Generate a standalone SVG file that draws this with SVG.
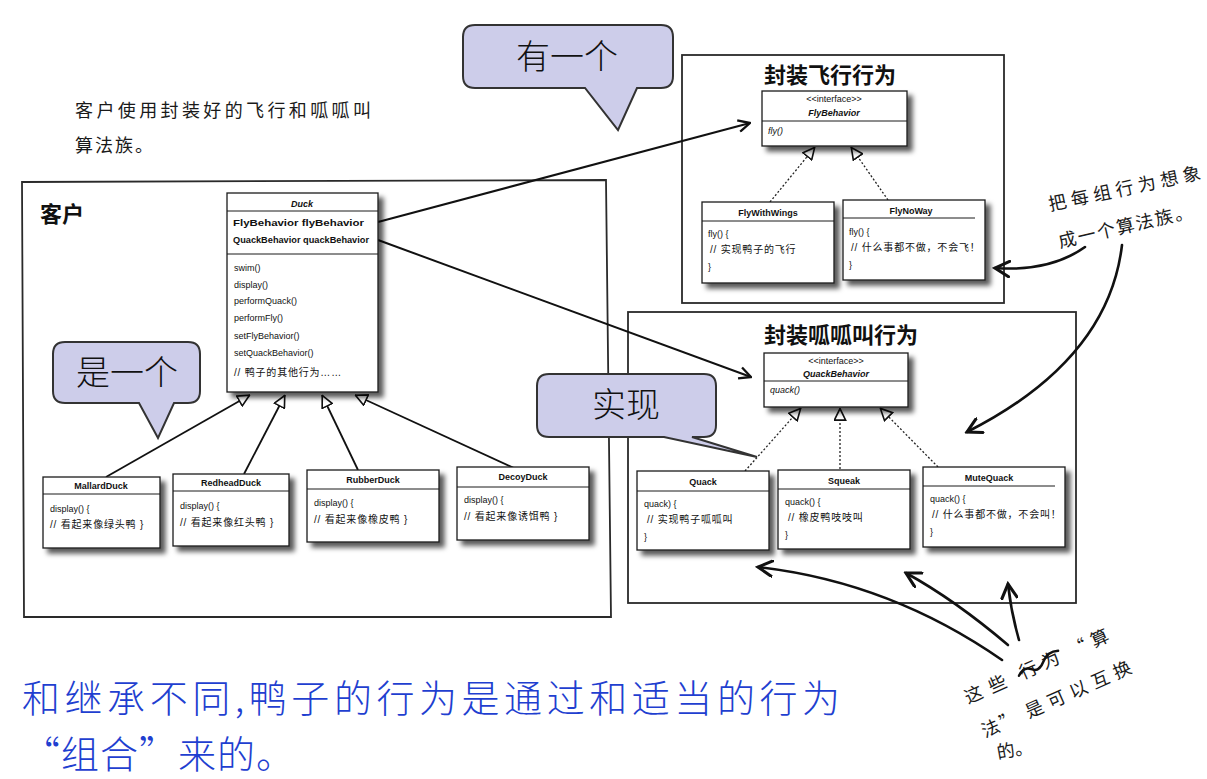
<svg xmlns="http://www.w3.org/2000/svg" width="1207" height="779" viewBox="0 0 1207 779">
<defs>
<style>
.panel{fill:#fff;stroke:#2a2a2a;stroke-width:1.8}
.cls{fill:#fff;stroke:#1a1a1a;stroke-width:1.3;filter:url(#sh)}
.sep{stroke:#1a1a1a;stroke-width:1;fill:none}
.t{font-family:"Liberation Sans","Noto Sans CJK SC",Arial,sans-serif;font-size:9px;fill:#111}
.tb{font-weight:bold}
.ti{font-style:italic}
.cm{font-family:"Liberation Sans","Noto Sans CJK SC",sans-serif;font-size:10px;fill:#111;letter-spacing:0.8px}
.ptitle{font-family:"Noto Sans CJK SC",sans-serif;font-weight:bold;font-size:22px;fill:#111}
.assoc{stroke:#111;stroke-width:2;fill:none}
.inh{stroke:#111;stroke-width:1.8;fill:none}
.real{stroke:#222;stroke-width:1.3;stroke-dasharray:2,2;fill:none}
.hand{stroke:#111;stroke-width:2.6;fill:none;stroke-linecap:round}
.hw{font-family:"Noto Sans CJK SC",sans-serif;font-size:18px;fill:#1a1a1a}
.call{fill:#cdcdea;stroke:#333;stroke-width:2}
.callt{font-family:"Noto Sans CJK SC",serif;font-weight:300;font-size:34px;fill:#111;text-anchor:middle}
.blue{font-family:"Noto Sans CJK SC",sans-serif;font-weight:300;font-size:38px;fill:#1f3fd0}
</style>
<filter id="sh" x="-10%" y="-10%" width="130%" height="130%">
<feDropShadow dx="5" dy="5" stdDeviation="2.8" flood-color="#000" flood-opacity="0.65"/>
</filter>
<marker id="open" viewBox="0 0 12 12" refX="11" refY="6" markerWidth="14" markerHeight="14" markerUnits="userSpaceOnUse" orient="auto">
<path d="M1,1 L11,6 L1,11" fill="none" stroke="#111" stroke-width="2"/>
</marker>
<marker id="tri" viewBox="0 0 12 12" refX="12" refY="6" markerWidth="13" markerHeight="13" markerUnits="userSpaceOnUse" orient="auto">
<path d="M0.8,0.8 L11.5,6 L0.8,11.2 Z" fill="#fff" stroke="#111" stroke-width="1.5" stroke-dasharray="none"/>
</marker>
<marker id="handhead" viewBox="0 0 14 14" refX="12" refY="7" markerWidth="18" markerHeight="18" markerUnits="userSpaceOnUse" orient="auto">
<path d="M1,1 L12,7 L1,13" fill="none" stroke="#111" stroke-width="2.4" stroke-linecap="round"/>
</marker>
</defs>
<rect width="1207" height="779" fill="#fff"/>

<!-- panels -->
<g id="client-panel">
<path class="panel" d="M22,182 L606,180 L611,617 L24,617 Z"/>
<text x="40" y="222" class="ptitle">客户</text>
</g>
<g id="fly-panel">
<rect class="panel" x="682" y="55" width="322" height="248"/>
<text x="830" y="83" class="ptitle" text-anchor="middle">封装飞行行为</text>
</g>
<g id="quack-panel">
<rect class="panel" x="628" y="312" width="448" height="291"/>
<text x="841" y="343" class="ptitle" text-anchor="middle">封装呱呱叫行为</text>
</g>

<!-- connectors -->
<g id="connectors">
<path class="assoc" d="M378,222 L750,123" marker-end="url(#open)"/>
<path class="assoc" d="M378,240 L751,377" marker-end="url(#open)"/>
<path class="inh" d="M106,477 L250,395" marker-end="url(#tri)"/>
<path class="inh" d="M244,474 L285,395" marker-end="url(#tri)"/>
<path class="inh" d="M358,470 L322,395" marker-end="url(#tri)"/>
<path class="inh" d="M514,468 L355,395" marker-end="url(#tri)"/>
<path class="real" d="M770,202 L815,147" marker-end="url(#tri)"/>
<path class="real" d="M888,200 L851,147" marker-end="url(#tri)"/>
<path class="real" d="M745,471 L801,408" marker-end="url(#tri)"/>
<path class="real" d="M840,469 L840,408" marker-end="url(#tri)"/>
<path class="real" d="M938,467 L880,408" marker-end="url(#tri)"/>
<path class="hand" d="M1085,247 Q1050,272 995,268" marker-end="url(#handhead)"/>
<path class="hand" d="M1122,245 C1112,330 1050,390 967,432" marker-end="url(#handhead)"/>
<path class="hand" d="M1002,660 Q890,582 758,567" marker-end="url(#handhead)"/>
<path class="hand" d="M1008,645 Q955,600 906,573" marker-end="url(#handhead)"/>
<path class="hand" d="M1019,640 Q1011,612 1008,584" marker-end="url(#handhead)"/>
</g>

<!-- Duck -->
<g id="duck">
<rect class="cls" x="227" y="193" width="151" height="199"/>
<text x="302" y="207" class="t tb ti" text-anchor="middle">Duck</text>
<line class="sep" x1="227" y1="211" x2="378" y2="211"/>
<text x="233" y="226" class="t tb" textLength="131" lengthAdjust="spacingAndGlyphs">FlyBehavior flyBehavior</text>
<text x="233" y="243" class="t tb" textLength="136" lengthAdjust="spacingAndGlyphs">QuackBehavior quackBehavior</text>
<line class="sep" x1="227" y1="254" x2="378" y2="254"/>
<text x="234" y="271" class="t">swim()</text>
<text x="234" y="288" class="t">display()</text>
<text x="234" y="304" class="t">performQuack()</text>
<text x="234" y="321" class="t">performFly()</text>
<text x="234" y="339" class="t">setFlyBehavior()</text>
<text x="234" y="356" class="t">setQuackBehavior()</text>
<text x="234" y="376" class="cm">// 鸭子的其他行为……</text>
</g>

<g id="mallard">
<rect class="cls" x="43" y="477" width="117" height="71"/>
<text x="101" y="489" class="t tb" text-anchor="middle">MallardDuck</text>
<line class="sep" x1="43" y1="494" x2="160" y2="494"/>
<text x="50" y="512" class="t">display() {</text>
<text x="50" y="528" class="cm">// 看起来像绿头鸭 }</text>
</g>
<g id="redhead">
<rect class="cls" x="173" y="474" width="116" height="72"/>
<text x="231" y="486" class="t tb" text-anchor="middle">RedheadDuck</text>
<line class="sep" x1="173" y1="491" x2="289" y2="491"/>
<text x="180" y="509" class="t">display() {</text>
<text x="180" y="526" class="cm">// 看起来像红头鸭 }</text>
</g>
<g id="rubber">
<rect class="cls" x="307" y="470" width="132" height="72"/>
<text x="373" y="483" class="t tb" text-anchor="middle">RubberDuck</text>
<line class="sep" x1="307" y1="489" x2="439" y2="489"/>
<text x="314" y="506" class="t">display() {</text>
<text x="314" y="523" class="cm">// 看起来像橡皮鸭 }</text>
</g>
<g id="decoy">
<rect class="cls" x="457" y="467" width="132" height="73"/>
<text x="523" y="480" class="t tb" text-anchor="middle">DecoyDuck</text>
<line class="sep" x1="457" y1="487" x2="589" y2="487"/>
<text x="464" y="503" class="t">display() {</text>
<text x="464" y="520" class="cm">// 看起来像诱饵鸭 }</text>
</g>

<!-- Fly behaviors -->
<g id="flybehavior">
<rect class="cls" x="762" y="91" width="145" height="55"/>
<text x="834" y="102" class="t" font-size="7.5" text-anchor="middle">&lt;&lt;interface&gt;&gt;</text>
<text x="834" y="116" class="t tb ti" text-anchor="middle">FlyBehavior</text>
<line class="sep" x1="762" y1="121" x2="907" y2="121"/>
<text x="768" y="134" class="t ti">fly()</text>
</g>
<g id="flywithwings">
<rect class="cls" x="702" y="202" width="132" height="81"/>
<text x="768" y="216" class="t tb" text-anchor="middle">FlyWithWings</text>
<line class="sep" x1="702" y1="221" x2="834" y2="221"/>
<text x="708" y="237" class="t">fly() {</text>
<text x="710" y="253" class="cm">// 实现鸭子的飞行</text>
<text x="708" y="270" class="t">}</text>
</g>
<g id="flynoway">
<rect class="cls" x="843" y="200" width="142" height="80"/>
<text x="911" y="214" class="t tb" text-anchor="middle">FlyNoWay</text>
<line class="sep" x1="843" y1="218" x2="975" y2="218"/>
<text x="849" y="235" class="t">fly() {</text>
<text x="851" y="251" class="cm" letter-spacing="0.2">// 什么事都不做，不会飞！</text>
<text x="849" y="268" class="t">}</text>
</g>

<!-- Quack behaviors -->
<g id="quackbehavior">
<rect class="cls" x="764" y="353" width="144" height="54"/>
<text x="836" y="364" class="t" font-size="7.5" text-anchor="middle">&lt;&lt;interface&gt;&gt;</text>
<text x="836" y="377" class="t tb ti" text-anchor="middle">QuackBehavior</text>
<line class="sep" x1="764" y1="381" x2="908" y2="381"/>
<text x="770" y="393" class="t ti">quack()</text>
</g>
<g id="quack">
<rect class="cls" x="637" y="471" width="132" height="79"/>
<text x="703" y="485" class="t tb" text-anchor="middle">Quack</text>
<line class="sep" x1="637" y1="491" x2="769" y2="491"/>
<text x="644" y="507" class="t">quack) {</text>
<text x="647" y="523" class="cm">// 实现鸭子呱呱叫</text>
<text x="644" y="540" class="t">}</text>
</g>
<g id="squeak">
<rect class="cls" x="778" y="470" width="132" height="79"/>
<text x="844" y="484" class="t tb" text-anchor="middle">Squeak</text>
<line class="sep" x1="778" y1="489" x2="910" y2="489"/>
<text x="785" y="505" class="t">quack() {</text>
<text x="788" y="521" class="cm">// 橡皮鸭吱吱叫</text>
<text x="785" y="538" class="t">}</text>
</g>
<g id="mutequack">
<rect class="cls" x="923" y="467" width="142" height="80"/>
<text x="989" y="481" class="t tb" text-anchor="middle">MuteQuack</text>
<line class="sep" x1="923" y1="486" x2="1055" y2="486"/>
<text x="930" y="502" class="t">quack() {</text>
<text x="932" y="518" class="cm" letter-spacing="0.2">// 什么事都不做，不会叫！</text>
<text x="930" y="535" class="t">}</text>
</g>

<!-- callouts -->
<g id="callout-has-a">
<path class="call" d="M475,25 H661 Q673,25 673,37 V76 Q673,88 661,88 H637 L618,130 L585,88 H475 Q463,88 463,76 V37 Q463,25 475,25 Z"/>
<text x="567" y="69" class="callt">有一个</text>
</g>
<g id="callout-is-a">
<path class="call" d="M65,342 H188 Q200,342 200,354 V391 Q200,403 188,403 H174 L158,438 L139,403 H65 Q53,403 53,391 V354 Q53,342 65,342 Z"/>
<text x="127" y="385" class="callt">是一个</text>
</g>
<g id="callout-implements">
<path class="call" d="M549,374 H704 Q716,374 716,386 V425 Q716,437 704,437 H692 L757,457 L664,437 H549 Q537,437 537,425 V386 Q537,374 549,374 Z"/>
<text x="626" y="417" class="callt">实现</text>
</g>

<!-- handwritten notes -->
<g id="note-client">
<text x="75" y="117" class="hw" textLength="296" lengthAdjust="spacing">客户使用封装好的飞行和呱呱叫</text>
<text x="75" y="152" class="hw" letter-spacing="2">算法族。</text>
</g>
<g id="note-family">
<text class="hw" transform="translate(1050,211) rotate(-12)" textLength="155" lengthAdjust="spacing">把每组行为想象</text>
<text class="hw" transform="translate(1060,248) rotate(-13)" textLength="137" lengthAdjust="spacing">成一个算法族。</text>
</g>
<g id="note-swap">
<g transform="translate(968,704) rotate(-24)">
<text class="hw"><tspan x="0">这</tspan><tspan x="26">些</tspan><tspan x="60">行</tspan><tspan x="84">为</tspan><tspan x="114">“</tspan><tspan x="138">算</tspan></text>
<path d="M58,-5 Q66,-12 72,-6 T86,-8 T104,-12" fill="none" stroke="#111" stroke-width="2.4" stroke-linecap="round"/>
</g>
<g transform="translate(985,738) rotate(-24)">
<text class="hw"><tspan x="0">法</tspan><tspan x="20">”</tspan><tspan x="48">是</tspan><tspan x="72">可</tspan><tspan x="96">以</tspan><tspan x="120">互</tspan><tspan x="144">换</tspan></text>
</g>
<text class="hw" transform="translate(998,759) rotate(-10)">的。</text>
</g>

<!-- bottom summary -->
<g id="summary">
<text x="22" y="712" class="blue" textLength="818" lengthAdjust="spacing">和继承不同,鸭子的行为是通过和适当的行为</text>
<text x="22" y="768" class="blue" letter-spacing="1">“组合”来的。</text>
</g>
</svg>
